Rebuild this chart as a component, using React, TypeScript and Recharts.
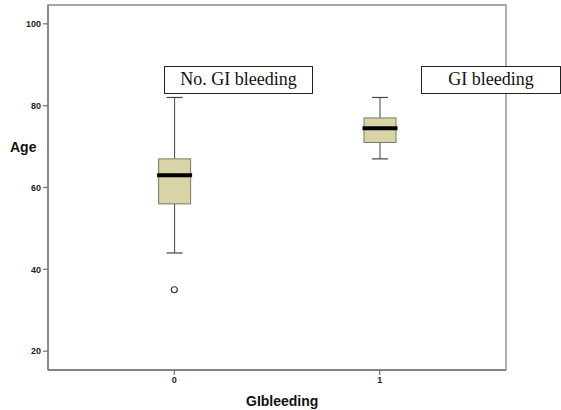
import React from 'react';
import { ComposedChart, Bar, Scatter, XAxis, YAxis, ReferenceArea } from 'recharts';

// box plot stats per group
const groups = [0, 1];
const mins = [44, 67];
const q1s = [56, 71];
const medians = [63, 74.5];
const q3s = [67, 77];
const maxs = [82, 82];
const outliers = [{ x: 0, y: 35 }];
const yTicks = [20, 40, 60, 80, 100];
const xTicks = [0, 1];

const X_DOMAIN: [number, number] = [-0.615, 1.615];
const Y_DOMAIN: [number, number] = [15.4, 104.6];

const data = groups.map((g, i) => ({
  x: g,
  range: [mins[i], maxs[i]],
  min: mins[i],
  q1: q1s[i],
  median: medians[i],
  q3: q3s[i],
  max: maxs[i],
}));

const BoxShape = (props: any) => {
  const { x, y, width, height, payload } = props;
  if (height == null || !payload) return null;
  const k = height / (payload.max - payload.min);
  const pos = (v: number) => y + (payload.max - v) * k;
  const cx = x + width / 2;
  const cap = 8;
  return (
    <g>
      <line x1={cx} x2={cx} y1={pos(payload.max)} y2={pos(payload.q3)} stroke="#444" strokeWidth={1} />
      <line x1={cx} x2={cx} y1={pos(payload.q1)} y2={pos(payload.min)} stroke="#444" strokeWidth={1} />
      <line x1={cx - cap} x2={cx + cap} y1={pos(payload.max)} y2={pos(payload.max)} stroke="#444" strokeWidth={1.2} />
      <line x1={cx - cap} x2={cx + cap} y1={pos(payload.min)} y2={pos(payload.min)} stroke="#444" strokeWidth={1.2} />
      <rect
        x={x}
        y={pos(payload.q3)}
        width={width}
        height={pos(payload.q1) - pos(payload.q3)}
        fill="#d9d4a6"
        stroke="#7a7a6a"
        strokeWidth={1}
      />
      <line x1={x - 1.5} x2={x + width + 1.5} y1={pos(payload.median)} y2={pos(payload.median)} stroke="#000" strokeWidth={4} />
    </g>
  );
};

const OutlierShape = (props: any) => (
  <circle cx={props.cx} cy={props.cy} r={3} fill="#fff" stroke="#333" strokeWidth={1.1} />
);

const labelBox: React.CSSProperties = {
  position: 'absolute',
  top: 66,
  height: 28,
  boxSizing: 'border-box',
  border: '1.5px solid #222',
  background: '#fff',
  fontFamily: '"Liberation Serif", "Times New Roman", serif',
  fontSize: 18,
  lineHeight: '25px',
  textAlign: 'center',
  color: '#111',
};

const axisTitle: React.CSSProperties = {
  position: 'absolute',
  fontFamily: '"Liberation Sans", Arial, sans-serif',
  fontWeight: 'bold',
  fontSize: 14,
  color: '#111',
};

const tickStyle = { fill: '#222', fontSize: 9, fontWeight: 'bold', fontFamily: '"Liberation Sans", Arial, sans-serif' };

export default function App() {
  return (
    <div style={{ position: 'absolute', left: 0, top: 0, width: 561, height: 410, background: '#fff' }}>
      <ComposedChart width={561} height={410} data={data} margin={{ top: 5, right: 55, bottom: 0, left: 0 }}>
        <XAxis
          dataKey="x"
          type="number"
          domain={X_DOMAIN}
          ticks={xTicks}
          allowDataOverflow
          tickSize={5}
          height={40}
          stroke="#777"
          strokeWidth={1.3}
          tick={tickStyle}
        />
        <YAxis
          type="number"
          domain={Y_DOMAIN}
          ticks={yTicks}
          allowDataOverflow
          tickSize={5}
          width={48}
          stroke="#777"
          strokeWidth={1.3}
          tick={tickStyle}
        />
        <ReferenceArea
          x1={X_DOMAIN[0]}
          x2={X_DOMAIN[1]}
          y1={Y_DOMAIN[0]}
          y2={Y_DOMAIN[1]}
          fill="none"
          stroke="#888"
          strokeWidth={1.3}
        />
        <Bar dataKey="range" barSize={32} shape={BoxShape} isAnimationActive={false} />
        <Scatter data={outliers} dataKey="y" shape={OutlierShape} isAnimationActive={false} />
      </ComposedChart>
      <div style={{ ...axisTitle, left: 10, top: 139 }}>Age</div>
      <div style={{ ...axisTitle, left: 246, top: 393 }}>GIbleeding</div>
      <div style={{ ...labelBox, left: 164, width: 149 }}>No. GI bleeding</div>
      <div style={{ ...labelBox, left: 421, width: 140 }}>GI bleeding</div>
    </div>
  );
}
